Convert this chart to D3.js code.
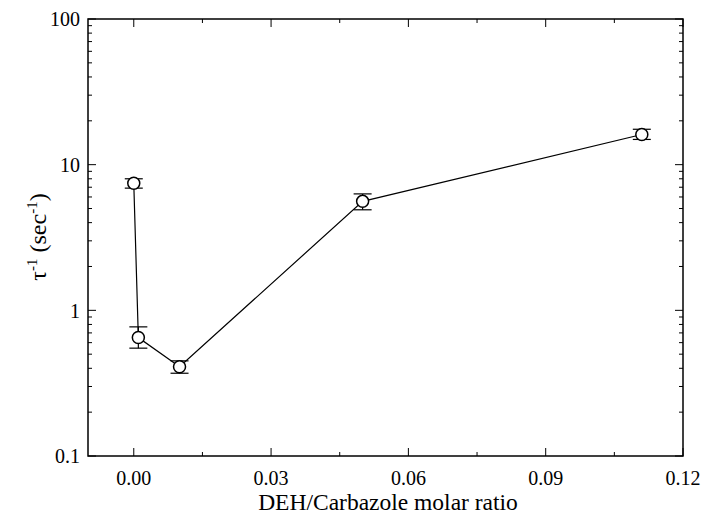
<!DOCTYPE html>
<html><head><meta charset="utf-8">
<script src="https://cdn.jsdelivr.net/npm/d3@7"></script>
<style>
body{margin:0;background:#fff}
#wrap{position:relative;width:702px;height:525px;}
#wrap svg{position:absolute;left:0;top:0;}
.lbl{position:absolute;white-space:nowrap;font-family:"Liberation Serif";color:#000;line-height:1;}
.sup{position:relative;top:-9px;font-size:15px;}
</style>
</head><body>
<div id="wrap"></div>
<script>
const ratio = [0.000, 0.001, 0.010, 0.050, 0.111];
const rate = [7.45, 0.65, 0.41, 5.6, 16.1];
const errHigh = [8.0, 0.77, 0.45, 6.3, 17.5];
const errLow = [6.9, 0.55, 0.37, 4.9, 14.9];
const xTicks = [0.00, 0.03, 0.06, 0.09, 0.12];
const xMinor = [0.015, 0.045, 0.075, 0.105];
const yTicks = [0.1, 1, 10, 100];
const yTickLabels = ["0.1", "1", "10", "100"];

const W = 702, H = 525;
const wrap = d3.select("#wrap");
const svg = wrap.append("svg").attr("width", W).attr("height", H);
const L = 88, R = 683, T = 19, B = 456;
const x = d3.scaleLinear().domain([-0.01, 0.12]).range([L, R]);
const y = d3.scaleLog().domain([0.1, 100]).range([B, T]);

const yMinor = [];
for (let d = 0.1; d < 100; d *= 10) for (let k = 2; k <= 9; k++) yMinor.push(+(d * k).toPrecision(3));

const g = svg.append("g").attr("stroke", "#000").attr("fill", "none");
g.append("rect").attr("x", L).attr("y", T).attr("width", R - L).attr("height", B - T).attr("stroke-width", 1.5);

xTicks.forEach(v => {
  g.append("line").attr("x1", x(v)).attr("x2", x(v)).attr("y1", B).attr("y2", B - 8);
  g.append("line").attr("x1", x(v)).attr("x2", x(v)).attr("y1", T).attr("y2", T + 8);
});
xMinor.forEach(v => {
  g.append("line").attr("x1", x(v)).attr("x2", x(v)).attr("y1", B).attr("y2", B - 4);
  g.append("line").attr("x1", x(v)).attr("x2", x(v)).attr("y1", T).attr("y2", T + 4);
});
yTicks.forEach(v => {
  g.append("line").attr("x1", L).attr("x2", L + 8).attr("y1", y(v)).attr("y2", y(v));
  g.append("line").attr("x1", R).attr("x2", R - 8).attr("y1", y(v)).attr("y2", y(v));
});
yMinor.forEach(v => {
  g.append("line").attr("x1", L).attr("x2", L + 4).attr("y1", y(v)).attr("y2", y(v));
  g.append("line").attr("x1", R).attr("x2", R - 4).attr("y1", y(v)).attr("y2", y(v));
});

// data marks
const data = ratio.map((r, i) => ({ r, v: rate[i], hi: errHigh[i], lo: errLow[i] }));
svg.append("path").datum(data).attr("fill", "none").attr("stroke", "#000").attr("stroke-width", 1.2)
  .attr("d", d3.line().x(d => x(d.r)).y(d => y(d.v)));
const eb = svg.append("g").attr("stroke", "#000").attr("stroke-width", 1.2);
data.forEach(d => {
  eb.append("line").attr("x1", x(d.r)).attr("x2", x(d.r)).attr("y1", y(d.hi)).attr("y2", y(d.lo));
  eb.append("line").attr("x1", x(d.r) - 9).attr("x2", x(d.r) + 9).attr("y1", y(d.hi)).attr("y2", y(d.hi));
  eb.append("line").attr("x1", x(d.r) - 9).attr("x2", x(d.r) + 9).attr("y1", y(d.lo)).attr("y2", y(d.lo));
});
svg.append("g").selectAll("circle").data(data).join("circle")
  .attr("cx", d => x(d.r)).attr("cy", d => y(d.v)).attr("r", 6)
  .attr("fill", "#fff").attr("stroke", "#000").attr("stroke-width", 1.5);

// text labels (HTML, positioned from the scales)
const ASC = 0.8375; // baseline offset within a line-height:1 box
const fmt = d3.format(".2f");
wrap.selectAll("div.xt").data(xTicks).join("div").attr("class", "lbl xt")
  .style("font-size", "20px")
  .style("left", d => x(d) + "px").style("top", (B + 29 - ASC * 20) + "px")
  .style("transform", "translateX(-50%)").text(d => fmt(d));
wrap.selectAll("div.yt").data(yTicks).join("div").attr("class", "lbl yt")
  .style("font-size", "20px")
  .style("left", (L - 8) + "px").style("top", d => (y(d) + 7 - ASC * 20) + "px")
  .style("transform", "translateX(-100%)").text((d, i) => yTickLabels[i]);
wrap.append("div").attr("class", "lbl")
  .style("font-size", "23.5px").style("left", "388px").style("top", (511 - ASC * 23.5) + "px")
  .style("transform", "translateX(-50%)").text("DEH/Carbazole molar ratio");
const yl = wrap.append("div").attr("class", "lbl")
  .style("font-size", "24px").style("left", "38px").style("top", "237px")
  .style("transform", "translate(-50%,-50%) rotate(-90deg)");
yl.append("span").text("τ");
yl.append("span").attr("class", "sup").text("-1");
yl.append("span").text(" (sec");
yl.append("span").attr("class", "sup").text("-1");
yl.append("span").text(")");
</script>
</body></html>
